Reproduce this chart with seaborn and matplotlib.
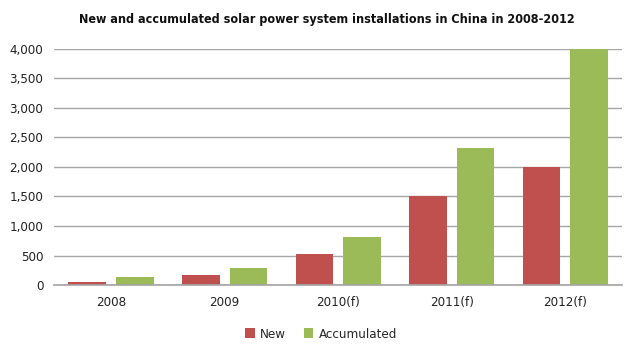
import pandas as pd
import matplotlib.pyplot as plt
import matplotlib.ticker as mticker
import seaborn as sns

# data
years = ["2008", "2009", "2010(f)", "2011(f)", "2012(f)"]
new_units = [45, 165, 520, 1500, 2000]
accumulated_units = [130, 290, 820, 2320, 4000]
series_names = ["New", "Accumulated"]

df = pd.DataFrame({
    "year": years * 2,
    "value": new_units + accumulated_units,
    "series": [series_names[0]] * len(years) + [series_names[1]] * len(years),
})

sns.set_theme(style="white")
plt.rcParams["font.family"] = ["DejaVu Sans"]
plt.rcParams["font.stretch"] = "condensed"

fig = plt.figure(figsize=(6.4, 3.59), dpi=100)
ax = fig.add_axes([0.085, 0.206, 0.887, 0.658])

sns.barplot(data=df, x="year", y="value", hue="series", order=years,
            hue_order=series_names, palette=["#C0504D", "#9BBB59"],
            width=0.84, gap=0.21, saturation=1, linewidth=0, edgecolor="none",
            ax=ax, legend=True)

ax.set_ylim(0, 4000)
ax.set_yticks(range(0, 4001, 500))
ax.yaxis.set_major_formatter(mticker.StrMethodFormatter("{x:,.0f}"))
ax.grid(axis="y", color="#A6A6A6", linewidth=1)
ax.set_axisbelow(True)
for s in ["top", "right", "left"]:
    ax.spines[s].set_visible(False)
ax.spines["bottom"].set_color("#A6A6A6")
ax.tick_params(axis="both", length=0, labelsize=9.5, colors="#222222", pad=8)
ax.set_xlabel("")
ax.set_ylabel("")

fig.suptitle("New and accumulated solar power system installations in China in 2008-2012",
             fontsize=9, fontweight="bold", x=0.51, y=0.965, color="#111111")

leg = ax.legend(loc="upper center", bbox_to_anchor=(0.47, -0.13), ncol=2,
                frameon=False, fontsize=9.5, handlelength=0.7, handleheight=0.7,
                handletextpad=0.4, columnspacing=1.4)

fig.savefig("out.png", dpi=100)
